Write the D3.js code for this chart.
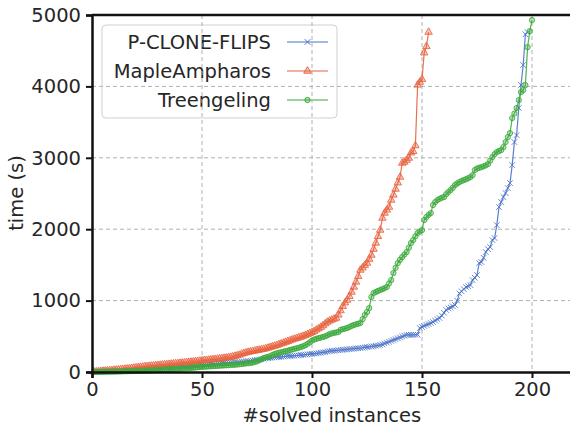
<!DOCTYPE html>
<html>
<head>
<meta charset="utf-8">
<script src="https://cdn.jsdelivr.net/npm/d3@7"></script>
<style>
  body { margin: 0; background: #fff; }
  text { font-family: "DejaVu Sans", sans-serif; fill: #262626; }
</style>
</head>
<body>
<div id="chart"></div>
<script>
// solve times (s), sorted, one value per solved instance
const pcloneTimes = [
  2, 3, 4, 5, 6, 8, 9, 10, 12, 13,
  14, 15, 16, 17, 18, 19, 20, 22, 23, 25,
  27, 29, 31, 33, 35, 37, 39, 41, 43, 45,
  47, 49, 51, 53, 55, 57, 60, 62, 65, 68,
  70, 72, 75, 78, 80, 83, 86, 90, 95, 98,
  101, 104, 107, 110, 112, 115, 118, 120, 123, 126,
  128, 130, 132, 134, 136, 138, 140, 143, 146, 150,
  154, 158, 162, 166, 170, 175, 180, 185, 190, 195,
  198, 201, 204, 207, 210, 213, 216, 219, 222, 225,
  227, 229, 231, 234, 238, 241, 244, 247, 250, 253,
  257, 261, 265, 270, 275, 280, 286, 292, 296, 299,
  302, 305, 308, 311, 314, 317, 320, 323, 326, 330,
  333, 336, 340, 345, 350, 354, 358, 362, 366, 372,
  378, 388, 400, 412, 424, 436, 448, 460, 472, 484,
  496, 508, 518, 520, 521, 522, 522, 523, 616, 630,
  645, 660, 672, 686, 700, 720, 740, 756, 790, 830,
  868, 890, 905, 920, 938, 1000, 1100, 1130, 1160, 1190,
  1200, 1218, 1288, 1320, 1358, 1526, 1540, 1600, 1680, 1720,
  1750, 1848, 1876, 2058, 2310, 2380, 2450, 2506, 2576, 2646,
  2898, 3220, 3318, 3700, 4020, 4300, 4730, 4760
];

const mapleTimes = [
  3, 5, 8, 10, 13, 15, 18, 20, 23, 26,
  29, 32, 35, 38, 41, 44, 48, 52, 56, 60,
  64, 68, 72, 75, 78, 82, 85, 88, 91, 94,
  97, 100, 103, 106, 109, 112, 115, 118, 121, 124,
  127, 130, 133, 137, 140, 143, 147, 151, 155, 158,
  162, 165, 168, 172, 175, 178, 182, 186, 190, 194,
  198, 203, 208, 214, 222, 230, 238, 252, 262, 270,
  278, 284, 290, 296, 302, 308, 314, 320, 328, 336,
  346, 356, 364, 374, 386, 396, 406, 418, 430, 440,
  452, 462, 472, 482, 490, 502, 514, 528, 542, 555,
  570, 590, 608, 628, 650, 676, 700, 716, 730, 742,
  756, 800, 860, 920, 970, 1008, 1060, 1120, 1190, 1260,
  1340, 1428, 1460, 1495, 1526, 1580, 1638, 1720, 1806, 1900,
  1988, 2156, 2226, 2270, 2310, 2408, 2480, 2562, 2650, 2730,
  2926, 2940, 2968, 2996, 3070, 3090, 3170, 4020, 4060, 4100,
  4470, 4560, 4760
];

const treengelingTimes = [
  1, 1, 2, 2, 3, 3, 4, 4, 5, 5,
  6, 7, 8, 9, 10, 11, 12, 13, 14, 15,
  16, 17, 18, 19, 20, 21, 22, 24, 26, 28,
  30, 32, 34, 36, 38, 40, 42, 44, 46, 48,
  50, 52, 54, 56, 58, 60, 63, 66, 70, 72,
  74, 76, 78, 80, 82, 84, 86, 88, 90, 92,
  94, 96, 98, 100, 102, 105, 108, 112, 116, 120,
  123, 126, 132, 140, 150, 165, 180, 195, 205, 212,
  222, 238, 252, 262, 270, 276, 284, 292, 300, 308,
  316, 324, 332, 340, 350, 362, 375, 395, 415, 440,
  455, 465, 475, 482, 490, 500, 515, 530, 540, 548,
  554, 560, 590, 600, 608, 616, 630, 645, 658, 668,
  676, 686, 740, 798, 840, 896, 1050, 1106, 1120, 1135,
  1148, 1160, 1175, 1190, 1240, 1288, 1386, 1460, 1526, 1570,
  1610, 1645, 1680, 1740, 1806, 1848, 1900, 1946, 1968, 1988,
  2128, 2170, 2200, 2226, 2338, 2380, 2408, 2425, 2440, 2450,
  2490, 2520, 2548, 2580, 2618, 2640, 2660, 2675, 2688, 2700,
  2715, 2730, 2758, 2828, 2850, 2860, 2870, 2880, 2895, 2912,
  2960, 3010, 3050, 3080, 3095, 3108, 3150, 3220, 3290, 3346,
  3556, 3620, 3696, 3808, 3920, 3948, 4018, 4550, 4774, 4928
];

const solverNames = ["P-CLONE-FLIPS", "MapleAmpharos", "Treengeling"];
const xTicks = [0, 50, 100, 150, 200];
const yTicks = [0, 1000, 2000, 3000, 4000, 5000];

const series = [
  {name: solverNames[0], values: pcloneTimes, color: "#4a72c9", symbol: d3.symbolTimes, size: 22},
  {name: solverNames[1], values: mapleTimes, color: "#e8613e", symbol: d3.symbolTriangle, size: 24},
  {name: solverNames[2], values: treengelingTimes, color: "#3daa3d", symbol: d3.symbolCircle, size: 22}
];

const W = 570, H = 428;
const margin = {top: 15, left: 92, bottom: 56};
const plotW = 484; // x domain runs to 220, right edge falls off the canvas
const plotH = H - margin.top - margin.bottom;
const fontSize = "19.5px";

const x = d3.scaleLinear().domain([0, 220]).range([0, plotW]);
const y = d3.scaleLinear().domain([0, 5000]).range([plotH, 0]);

const svg = d3.select("#chart").append("svg")
    .attr("width", W)
    .attr("height", H);

const g = svg.append("g")
    .attr("transform", `translate(${margin.left},${margin.top})`);

// legend box goes under the grid so the dashed lines show through it
const legend = g.append("g").attr("transform", "translate(10,10)");
legend.append("rect")
    .attr("width", 235)
    .attr("height", 93)
    .attr("rx", 4)
    .attr("fill", "#fff")
    .attr("fill-opacity", 0.8)
    .attr("stroke", "#d0d0d0")
    .attr("stroke-width", 1);

// grid
g.append("g")
    .selectAll("line")
    .data(xTicks.filter(d => d > 0))
    .join("line")
    .attr("x1", d => x(d)).attr("x2", d => x(d))
    .attr("y1", 0).attr("y2", plotH)
    .attr("stroke", "#b0b0b0")
    .attr("stroke-width", 1)
    .attr("stroke-dasharray", "4,3");
g.append("g")
    .selectAll("line")
    .data(yTicks.filter(d => d > 0 && d < 5000))
    .join("line")
    .attr("x1", 0).attr("x2", plotW)
    .attr("y1", d => y(d)).attr("y2", d => y(d))
    .attr("stroke", "#b0b0b0")
    .attr("stroke-width", 1)
    .attr("stroke-dasharray", "4,3");

// series
const line = d3.line()
    .x((d, i) => x(i + 1))
    .y(d => y(d));

series.forEach(s => {
    const sg = g.append("g");
    sg.append("path")
        .datum(s.values)
        .attr("d", line)
        .attr("fill", "none")
        .attr("stroke", s.color)
        .attr("stroke-width", 1.2)
        .attr("stroke-opacity", 0.9);
    sg.selectAll("path.mark")
        .data(s.values)
        .join("path")
        .attr("class", "mark")
        .attr("d", d3.symbol().type(s.symbol).size(s.size))
        .attr("transform", (d, i) => `translate(${x(i + 1)},${y(d)})`)
        .attr("fill", s.color)
        .attr("fill-opacity", s.symbol === d3.symbolTimes ? 1 : 0.35)
        .attr("stroke", s.color)
        .attr("stroke-width", 1)
        .attr("stroke-opacity", 0.85);
});

// axes
const xAxis = g.append("g")
    .attr("transform", `translate(0,${plotH})`)
    .call(d3.axisBottom(x).tickValues(xTicks).tickFormat(d3.format("d")).tickSize(6).tickPadding(4));
const yAxis = g.append("g")
    .call(d3.axisLeft(y).tickValues(yTicks).tickFormat(d3.format("d")).tickSize(6).tickPadding(5));
[xAxis, yAxis].forEach(a => {
    a.select(".domain").attr("stroke", "#111").attr("stroke-width", 2.5);
    a.selectAll(".tick line").attr("stroke", "#111").attr("stroke-width", 2);
    a.selectAll(".tick text")
        .style("font-family", "DejaVu Sans")
        .style("font-size", fontSize)
        .attr("fill", "#262626");
});
// top spine
g.append("line")
    .attr("x1", 0).attr("x2", plotW)
    .attr("y1", 0).attr("y2", 0)
    .attr("stroke", "#111")
    .attr("stroke-width", 2.5);

// axis titles
svg.append("text")
    .attr("x", margin.left + x(109))
    .attr("y", 422)
    .attr("text-anchor", "middle")
    .style("font-size", fontSize)
    .text("#solved instances");
svg.append("text")
    .attr("transform", "translate(23,193) rotate(-90)")
    .attr("text-anchor", "middle")
    .style("font-size", fontSize)
    .text("time (s)");

// legend entries
series.forEach((s, i) => {
    const row = legend.append("g").attr("transform", `translate(0,${17 + i * 29})`);
    row.append("text")
        .attr("x", 169)
        .attr("y", 0)
        .attr("dy", "0.35em")
        .attr("text-anchor", "end")
        .style("font-size", fontSize)
        .text(s.name);
    row.append("line")
        .attr("x1", 185).attr("x2", 226)
        .attr("y1", 0).attr("y2", 0)
        .attr("stroke", s.color)
        .attr("stroke-width", 1.2);
    row.append("path")
        .attr("d", d3.symbol().type(s.symbol).size(s.size))
        .attr("transform", "translate(205.5,0)")
        .attr("fill", s.color)
        .attr("fill-opacity", s.symbol === d3.symbolTimes ? 1 : 0.35)
        .attr("stroke", s.color)
        .attr("stroke-width", 1);
});
</script>
</body>
</html>
